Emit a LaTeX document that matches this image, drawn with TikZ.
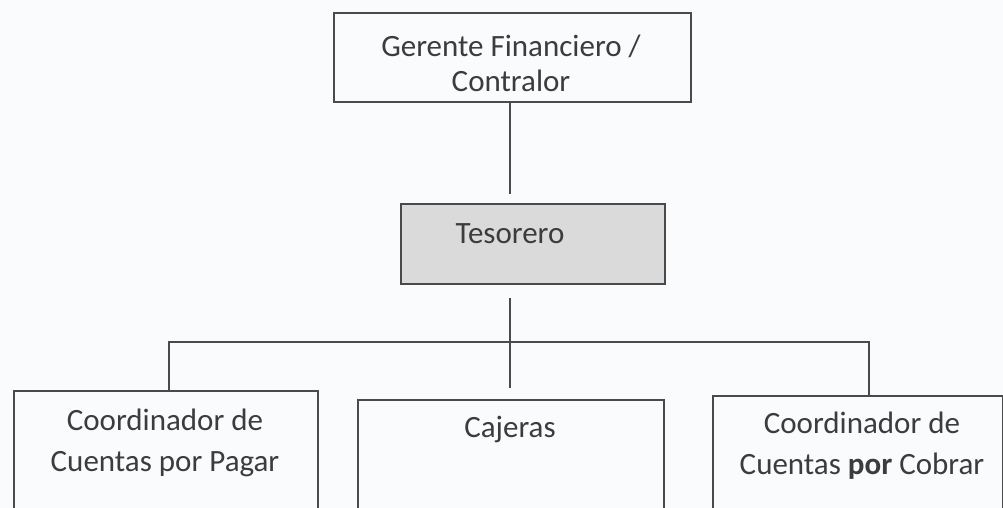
\documentclass[tikz,border=0pt]{standalone}
\usepackage{fontspec}
\setmainfont{Carlito}
\usetikzlibrary{calc}
\definecolor{ink}{HTML}{3C3C3C}
\definecolor{edge}{HTML}{4A4A4A}
\definecolor{paper}{HTML}{FAFBFC}
\definecolor{tesfill}{HTML}{DADADA}
\tikzset{
  box/.style={draw=edge, line width=1.8pt, rectangle, inner sep=0pt},
  txt/.style={text=ink, font=\fontsize{31}{35}\selectfont, align=center, inner sep=0pt},
  txtb/.style={txt, font=\fontsize{31}{41}\selectfont},
  conn/.style={draw=edge, line width=1.8pt}
}
\begin{document}
\begin{tikzpicture}[x=1pt,y=-1pt]
\useasboundingbox (0,0) rectangle (1003,508);
\fill[paper] (0,0) rectangle (1003,508);
\clip (0,0) rectangle (1003,508);
% boxes
\node[box, minimum width=357, minimum height=89, anchor=north west] (ger) at (333,12) {};
\node[txt] (gert) at (511,63) {Gerente Financiero /\\Contralor};
\node[box, fill=tesfill, minimum width=264, minimum height=80, anchor=north west] (tes) at (400,203) {};
\node[txt] (test) at (510,234) {Tesorero};
\node[box, minimum width=304, minimum height=150, anchor=north west] (cxp) at (13,390) {};
\node[txtb] (cxpt) at (165,443) {Coordinador de\\Cuentas por Pagar};
\node[box, minimum width=306, minimum height=150, anchor=north west] (caj) at (357,399) {};
\node[txt] (cajt) at (510,429) {Cajeras};
\node[box, minimum width=290, minimum height=150, anchor=north west] (cxc) at (712,395) {};
\node[txtb] (cxct) at (862,446) {Coordinador de\\Cuentas \textbf{por} Cobrar};
% connectors
\coordinate (jn) at (510,342);
\draw[conn, shorten >=9pt] (ger.south -| jn) -- (tes.north -| jn);
\draw[conn, shorten <=13pt, shorten >=11pt] (tes.south -| jn) -- (caj.north -| jn);
\draw[conn] ($(cxp.north)+(3,0)$) |- (jn) -| ($(cxc.north)+(11,0)$);
\end{tikzpicture}
\end{document}
